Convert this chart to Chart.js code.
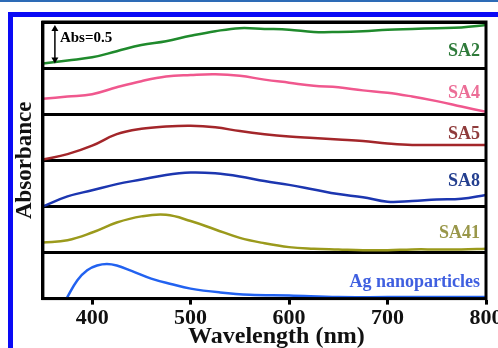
<!DOCTYPE html>
<html>
<head>
<meta charset="utf-8">
<script src="https://cdn.jsdelivr.net/npm/chart.js@4.4.1/dist/chart.umd.min.js"></script>
<style>
  html, body { margin: 0; padding: 0; background: #fff; overflow: hidden; }
  body { width: 498px; height: 348px; position: relative; }
  #wrap { position: absolute; left: 0; top: 0; width: 510px; height: 348px; }
  .rule { position: absolute; }
</style>
</head>
<body>
<div class="rule" style="left:0;top:0;width:498px;height:2px;background:#2d6bb6"></div>
<div class="rule" style="left:8px;top:12px;width:490px;height:5px;background:#0a0af5"></div>
<div class="rule" style="left:8px;top:12px;width:5px;height:336px;background:#0a0af5"></div>
<div id="wrap"><canvas id="uvChart"></canvas></div>
<script>
const wavelength = [350, 375, 400, 425, 450, 475, 500, 525, 550, 575, 600, 625, 650, 675, 700, 725, 750, 775, 800];
const sa2  = [0.06, 0.10, 0.14, 0.22, 0.30, 0.35, 0.42, 0.48, 0.52, 0.51, 0.50, 0.47, 0.47, 0.48, 0.50, 0.51, 0.52, 0.53, 0.56];
const sa4  = [0.20, 0.23, 0.26, 0.35, 0.43, 0.49, 0.51, 0.52, 0.50, 0.45, 0.41, 0.37, 0.35, 0.31, 0.28, 0.23, 0.17, 0.10, 0.03];
const sa5  = [0.01, 0.08, 0.19, 0.34, 0.41, 0.44, 0.45, 0.43, 0.38, 0.34, 0.31, 0.29, 0.27, 0.25, 0.22, 0.20, 0.20, 0.20, 0.20];
const sa8  = [0.00, 0.13, 0.21, 0.29, 0.35, 0.41, 0.44, 0.43, 0.39, 0.33, 0.28, 0.22, 0.16, 0.12, 0.06, 0.07, 0.09, 0.10, 0.15];
const sa41 = [0.13, 0.16, 0.26, 0.39, 0.47, 0.49, 0.41, 0.30, 0.19, 0.12, 0.07, 0.05, 0.04, 0.03, 0.03, 0.04, 0.04, 0.04, 0.05];
const agWavelength = [374, 385, 395, 405, 415, 425, 440, 460, 480, 500, 530, 560, 600, 650, 700, 800];
const ag = [0.00, 0.24, 0.37, 0.43, 0.45, 0.43, 0.36, 0.26, 0.19, 0.13, 0.08, 0.05, 0.04, 0.02, 0.02, 0.02];
const panelLabels = ['SA2', 'SA4', 'SA5', 'SA8', 'SA41', 'Ag nanoparticles'];
const xTicks = [400, 500, 600, 700, 800];
const PANEL = 0.6;   // absorbance span of one panel
const ABS_BAR = 0.5; // scale bar

const series = [
    { x: wavelength, y: sa2,  line: '#1f8a2c', text: '#2f7b3b' },
    { x: wavelength, y: sa4,  line: '#f0588e', text: '#ec6e97' },
    { x: wavelength, y: sa5,  line: '#a3262a', text: '#8f3b3b' },
    { x: wavelength, y: sa8,  line: '#1c36b0', text: '#243f8f' },
    { x: wavelength, y: sa41, line: '#9b9a1c', text: '#99974a' },
    { x: agWavelength, y: ag, line: '#2262f0', text: '#3f5fe0' }
];
const nPanels = series.length;
const serif = "'Liberation Serif', 'DejaVu Serif', serif";

const datasets = series.map((s, i) => {
    const off = (nPanels - 1 - i) * PANEL;
    return {
        label: panelLabels[i],
        data: s.x.map((w, j) => ({ x: w, y: off + s.y[j] })),
        borderColor: s.line,
        borderWidth: 2.5,
        pointRadius: 0,
        fill: false,
        tension: 0.4
    };
});

const labelLift = [17, 20.5, 25.5, 25.5, 19, 16.5];

const decor = {
    id: 'decor',
    afterDatasetsDraw(chart) {
        const { ctx, chartArea: a, scales } = chart;
        const y = scales.y;
        ctx.save();
        ctx.strokeStyle = '#000';
        ctx.lineWidth = 3;
        ctx.strokeRect(a.left, a.top, a.right - a.left, a.bottom - a.top);

        // panel names
        ctx.font = 'bold 18px ' + serif;
        ctx.textAlign = 'right';
        ctx.textBaseline = 'middle';
        series.forEach((s, i) => {
            const base = y.getPixelForValue((nPanels - 1 - i) * PANEL);
            ctx.fillStyle = s.text;
            ctx.fillText(panelLabels[i], a.right - 6, base - labelLift[i]);
        });

        // Abs=0.5 scale bar
        const off = (nPanels - 1) * PANEL + sa2[0];
        const y0 = y.getPixelForValue(off);
        const y1 = y.getPixelForValue(off + ABS_BAR);
        const ax = a.left + 12;
        ctx.fillStyle = '#000';
        ctx.lineWidth = 1.5;
        ctx.beginPath();
        ctx.moveTo(ax, y0 - 4);
        ctx.lineTo(ax, y1 + 4);
        ctx.stroke();
        ctx.beginPath();
        ctx.moveTo(ax, y1); ctx.lineTo(ax - 3.5, y1 + 6); ctx.lineTo(ax + 3.5, y1 + 6); ctx.closePath();
        ctx.fill();
        ctx.beginPath();
        ctx.moveTo(ax, y0); ctx.lineTo(ax - 3.5, y0 - 6); ctx.lineTo(ax + 3.5, y0 - 6); ctx.closePath();
        ctx.fill();
        ctx.font = 'bold 15px ' + serif;
        ctx.textAlign = 'left';
        ctx.fillText('Abs=0.5', ax + 5, y1 + 13);

        // x title
        ctx.font = 'bold 24px ' + serif;
        ctx.textAlign = 'center';
        ctx.fillStyle = '#111';
        ctx.fillText('Wavelength (nm)', (a.left + a.right) / 2 + 12, a.bottom + 38);
        ctx.restore();
    }
};

new Chart(document.getElementById('uvChart'), {
    type: 'line',
    data: { datasets },
    plugins: [decor],
    options: {
        responsive: true,
        maintainAspectRatio: false,
        animation: false,
        layout: { padding: { left: 10, top: 22, right: 24, bottom: 15 } },
        plugins: {
            legend: { display: false },
            tooltip: { enabled: false }
        },
        scales: {
            x: {
                type: 'linear',
                min: 350,
                max: 800,
                afterBuildTicks: sc => { sc.ticks = xTicks.map(v => ({ value: v })); },
                grid: {
                    drawOnChartArea: false,
                    drawTicks: true,
                    tickLength: 6,
                    tickWidth: 3,
                    tickColor: '#000'
                },
                border: { display: true, width: 3, color: '#000' },
                ticks: {
                    padding: 1,
                    color: '#111',
                    font: { family: serif, size: 22, weight: 'bold' },
                    maxRotation: 0
                }
            },
            y: {
                min: 0,
                max: nPanels * PANEL,
                afterBuildTicks: sc => {
                    sc.ticks = Array.from({ length: nPanels + 1 }, (_, k) => ({ value: k * PANEL }));
                },
                grid: { color: '#000', lineWidth: 3, drawTicks: false },
                border: { display: true, width: 3, color: '#000' },
                ticks: { display: false },
                title: {
                    display: true,
                    text: 'Absorbance',
                    color: '#111',
                    font: { family: serif, size: 23, weight: 'bold' },
                    padding: { top: 1, bottom: 4.3 }
                }
            }
        }
    }
});
</script>
</body>
</html>
